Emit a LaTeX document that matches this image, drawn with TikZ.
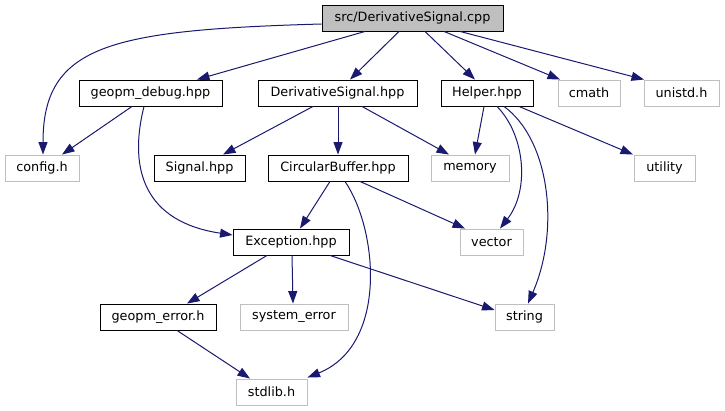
\documentclass[tikz,border=0pt]{standalone}
\usepackage{fontspec}
\setmainfont{DejaVu Sans}
\usetikzlibrary{arrows.meta}
\definecolor{edgeblue}{HTML}{191970}
\definecolor{extgray}{HTML}{BFBFBF}
\tikzset{
  box/.style={draw=black, line width=0.9pt, minimum height=26pt, inner sep=0pt, fill=white,
    font=\fontsize{12.8}{15}\selectfont},
  extbox/.style={box, draw=extgray},
  rootbox/.style={box, fill=extgray},
  dep/.style={draw=edgeblue, line width=1pt, -{Triangle[length=12.5pt,width=9pt]}, color=edgeblue},
}
\begin{document}
\begin{tikzpicture}[x=1pt,y=-1pt]
\useasboundingbox (0,0) rectangle (725,411);
% nodes
\node[rootbox, minimum width=181pt] (cpp) at (412.5,18) {src/DerivativeSignal.cpp};
\node[box, minimum width=143pt] (dbg) at (150.5,93) {geopm\_debug.hpp};
\node[box, minimum width=159pt] (dsh) at (337.5,93) {DerivativeSignal.hpp};
\node[box, minimum width=92pt] (hlp) at (487,93) {Helper.hpp};
\node[extbox, minimum width=62pt] (cmath) at (589,93) {cmath};
\node[extbox, minimum width=75pt] (unistd) at (681.5,93) {unistd.h};
\node[extbox, minimum width=74pt] (config) at (42,168) {config.h};
\node[box, minimum width=91pt] (sig) at (199.5,168) {Signal.hpp};
\node[box, minimum width=140pt] (circ) at (338,168) {CircularBuffer.hpp};
\node[extbox, minimum width=78pt] (memory) at (470,168) {memory};
\node[extbox, minimum width=61pt] (utility) at (664.5,168) {utility};
\node[box, minimum width=116pt] (exc) at (291,242) {Exception.hpp};
\node[extbox, minimum width=63pt] (vector) at (491.5,242) {vector};
\node[box, minimum width=116pt] (gerr) at (158,317) {geopm\_error.h};
\node[extbox, minimum width=108pt] (syserr) at (294,317) {system\_error};
\node[extbox, minimum width=59pt] (string) at (524.5,317) {string};
\node[extbox, minimum width=71pt] (stdlib) at (271.5,392) {stdlib.h};
% edges from cpp
\draw[dep] ([yshift=-6pt]cpp.west) .. controls (110,30) and (43,45) .. ([xshift=1pt]config.north);
\draw[dep] ([xshift=-47.5pt]cpp.south) -- ([xshift=46.5pt]dbg.north);
\draw[dep] ([xshift=-13.5pt]cpp.south) -- ([xshift=12.5pt]dsh.north);
\draw[dep] ([xshift=12.5pt]cpp.south) -- ([xshift=-12pt]hlp.north);
\draw[dep] ([xshift=31.5pt]cpp.south) -- ([xshift=-29pt]cmath.north);
\draw[dep] ([xshift=47.5pt]cpp.south) -- ([xshift=-37.5pt]unistd.north);
% geopm_debug
\draw[dep] ([xshift=-18.5pt]dbg.south) -- ([xshift=20pt]config.north);
\draw[dep] ([xshift=-6.5pt]dbg.south) .. controls (128,170) and (145,222) .. ([yshift=7pt]exc.west);
% DerivativeSignal.hpp
\draw[dep] ([xshift=-24.5pt]dsh.south) -- ([xshift=23.5pt]sig.north);
\draw[dep] ([xshift=0.5pt]dsh.south) -- (circ.north);
\draw[dep] ([xshift=24.5pt]dsh.south) -- ([xshift=-21pt]memory.north);
% Helper.hpp
\draw[dep] ([xshift=-3pt]hlp.south) -- ([xshift=5pt]memory.north);
\draw[dep] ([xshift=10pt]hlp.south) .. controls (525,135) and (530,190) .. ([xshift=8.5pt]vector.north);
\draw[dep] ([xshift=17pt]hlp.south) .. controls (550,140) and (560,230) .. ([xshift=3.5pt]string.north);
\draw[dep] ([xshift=32pt]hlp.south) -- ([xshift=-31.5pt]utility.north);
% CircularBuffer.hpp
\draw[dep] ([xshift=-8pt]circ.south) -- ([xshift=9pt]exc.north);
\draw[dep] ([xshift=7pt]circ.south) .. controls (378,230) and (388,345) .. ([xshift=36pt,yshift=1pt]stdlib.north);
\draw[dep] ([xshift=22pt]circ.south) -- ([xshift=-26.5pt]vector.north);
% Exception.hpp
\draw[dep] ([xshift=-24pt]exc.south) -- ([xshift=29pt]gerr.north);
\draw[dep] ([xshift=1pt]exc.south) -- ([xshift=-1pt]syserr.north);
\draw[dep] ([xshift=39pt]exc.south) -- ([yshift=7pt]string.west);
% geopm_error.h
\draw[dep] ([xshift=19pt]gerr.south) -- ([xshift=-21.5pt]stdlib.north);
\end{tikzpicture}
\end{document}
